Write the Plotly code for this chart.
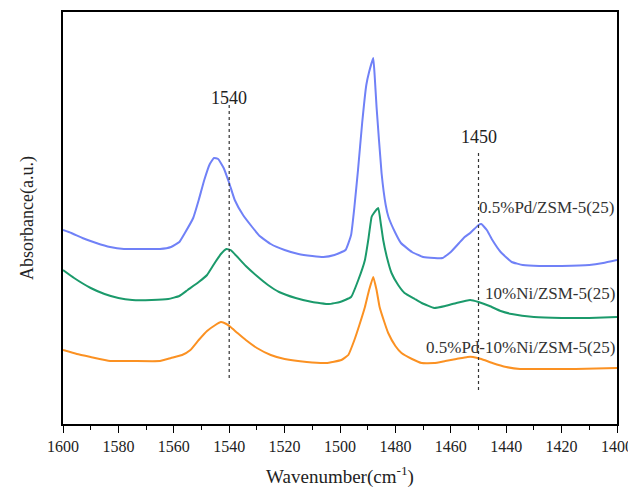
import plotly.graph_objects as go

# ---- data ----
wn_pd = [1600, 1597, 1593, 1588, 1583, 1578, 1570, 1565, 1561, 1558, 1556, 1553, 1551, 1549, 1547,
         1545.5, 1544, 1542, 1540, 1538, 1535, 1532, 1529, 1525, 1520, 1515, 1510, 1506, 1502, 1498,
         1496, 1494.8, 1493.5, 1492, 1490.5, 1489.5, 1488, 1487.5, 1486.8, 1485, 1483.5, 1482.5, 1480,
         1478, 1474, 1470, 1466, 1463, 1460, 1457, 1455, 1453, 1450, 1449, 1447, 1445, 1442, 1438,
         1434, 1428, 1420, 1410, 1405, 1400]
abs_pd = [2.02, 1.99, 1.94, 1.89, 1.85, 1.83, 1.83, 1.83, 1.85, 1.90, 1.99, 2.14, 2.32, 2.52, 2.68,
          2.74, 2.73, 2.64, 2.49, 2.32, 2.17, 2.06, 1.96, 1.88, 1.82, 1.78, 1.76, 1.75, 1.77, 1.82,
          1.97, 2.25, 2.62, 3.09, 3.47, 3.60, 3.74, 3.57, 3.25, 2.59, 2.27, 2.15, 1.99,
          1.89, 1.80, 1.75, 1.74, 1.74, 1.80, 1.89, 1.95, 1.99, 2.07, 2.08, 2.02, 1.92, 1.80, 1.70,
          1.67, 1.66, 1.66, 1.67, 1.69, 1.72]

wn_ni = [1600, 1596, 1590, 1585, 1580, 1575, 1568, 1562, 1558, 1555, 1551, 1548, 1545, 1543, 1541,
         1539.5, 1537, 1534, 1530, 1526, 1522, 1516, 1510, 1504, 1500, 1496, 1493.4, 1491, 1489.8,
         1488.6, 1488, 1486.2, 1485.2, 1484.4, 1483, 1481.4, 1479, 1476.7, 1473, 1470.5, 1466, 1462,
         1458, 1453, 1450, 1446, 1442, 1438, 1430, 1420, 1410, 1400]
abs_ni = [1.62, 1.54, 1.44, 1.38, 1.34, 1.32, 1.32, 1.33, 1.36, 1.42, 1.50, 1.57, 1.70, 1.78, 1.83,
          1.82, 1.75, 1.66, 1.56, 1.47, 1.40, 1.34, 1.30, 1.28, 1.30, 1.35, 1.52, 1.72, 1.92,
          2.15, 2.18, 2.24, 2.07, 1.92, 1.74, 1.59, 1.47, 1.39, 1.33, 1.29, 1.24, 1.26,
          1.29, 1.32, 1.30, 1.26, 1.21, 1.18, 1.15, 1.14, 1.14, 1.15]

wn_pdni = [1600, 1595, 1590, 1583, 1575, 1565, 1561, 1557, 1554, 1551, 1548, 1545, 1543, 1541, 1539.5,
           1537, 1534, 1530, 1525, 1520, 1512, 1505, 1499.5, 1497, 1494.8, 1493, 1491, 1489.5, 1488,
           1486.8, 1485.7, 1484, 1482.6, 1480, 1477.8, 1474, 1470.5, 1466, 1462, 1458, 1454, 1452,
           1449, 1445, 1440, 1435, 1425, 1415, 1400]
abs_pdni = [0.82, 0.78, 0.75, 0.71, 0.71, 0.71, 0.74, 0.77, 0.82, 0.92, 1.01, 1.07, 1.10, 1.08, 1.05,
            0.99, 0.92, 0.84, 0.77, 0.73, 0.70, 0.69, 0.72, 0.77, 0.92, 1.07, 1.25, 1.42, 1.55,
            1.42, 1.25, 1.10, 0.99, 0.86, 0.79, 0.73, 0.69, 0.69, 0.71, 0.73, 0.75, 0.75,
            0.73, 0.69, 0.65, 0.63, 0.63, 0.63, 0.64]

series_names = ["0.5%Pd/ZSM-5(25)", "10%Ni/ZSM-5(25)", "0.5%Pd-10%Ni/ZSM-5(25)"]
label_y = [2.25, 1.39, 0.85]
colors = ["#7081f7", "#1b9a6b", "#fb9122"]

ref_lines = [1540, 1450]
ref_line_y = [(0.54, 3.27), (0.42, 2.82)]
ref_label_y = [3.34, 2.95]
x_ticks = list(range(1600, 1399, -20))

FONT = "Liberation Serif"

fig = go.Figure()
for wn, ab, name, c in zip([wn_pd, wn_ni, wn_pdni], [abs_pd, abs_ni, abs_pdni], series_names, colors):
    fig.add_trace(go.Scatter(x=wn, y=ab, mode="lines", name=name,
                             line=dict(color=c, width=2, shape="spline", smoothing=0.35)))

for xv, (y0, y1), ly in zip(ref_lines, ref_line_y, ref_label_y):
    fig.add_shape(type="line", x0=xv, x1=xv, y0=y0, y1=y1, xref="x", yref="y",
                  line=dict(color="#333333", width=1.2, dash="dot"))
    fig.add_annotation(x=xv, y=ly, text=str(xv), showarrow=False, xref="x", yref="y",
                       font=dict(family=FONT, size=18, color="#222222"))

for name, ly in zip(series_names, label_y):
    fig.add_annotation(x=1400, y=ly, text=name, showarrow=False, xref="x", yref="y",
                       xanchor="right", font=dict(family=FONT, size=17, color="#333333"))

# the page body adds an 8px margin, so the figure is 8px smaller than the window
fig.update_layout(
    width=628, height=480,
    margin=dict(l=55, r=19, t=4, b=64),
    paper_bgcolor="white", plot_bgcolor="white",
    showlegend=False,
    font=dict(family=FONT, color="#222222"),
)
fig.update_xaxes(
    automargin=False,
    range=[1600, 1400], tickvals=x_ticks, ticktext=[str(t) for t in x_ticks],
    showgrid=False, zeroline=False,
    showline=True, linecolor="black", linewidth=1.5, mirror=True,
    ticks="outside", ticklen=7, tickwidth=1.2, tickcolor="black",
    minor=dict(dtick=10, ticks="outside", ticklen=4, tickwidth=1.2, tickcolor="black", showgrid=False),
    tickfont=dict(family=FONT, size=16, color="#222222"),
    title=dict(text="Wavenumber(cm<sup>-1</sup>)", font=dict(family=FONT, size=19, color="#222222"), standoff=16),
)
fig.update_yaxes(
    automargin=False,
    range=[0.08, 4.2], showticklabels=False, ticks="",
    showgrid=False, zeroline=False,
    showline=True, linecolor="black", linewidth=1.5, mirror=True,
    title=dict(text="Absorbance(a.u.)", font=dict(family=FONT, size=18, color="#222222"), standoff=23),
)

fig.write_html("out.html")
